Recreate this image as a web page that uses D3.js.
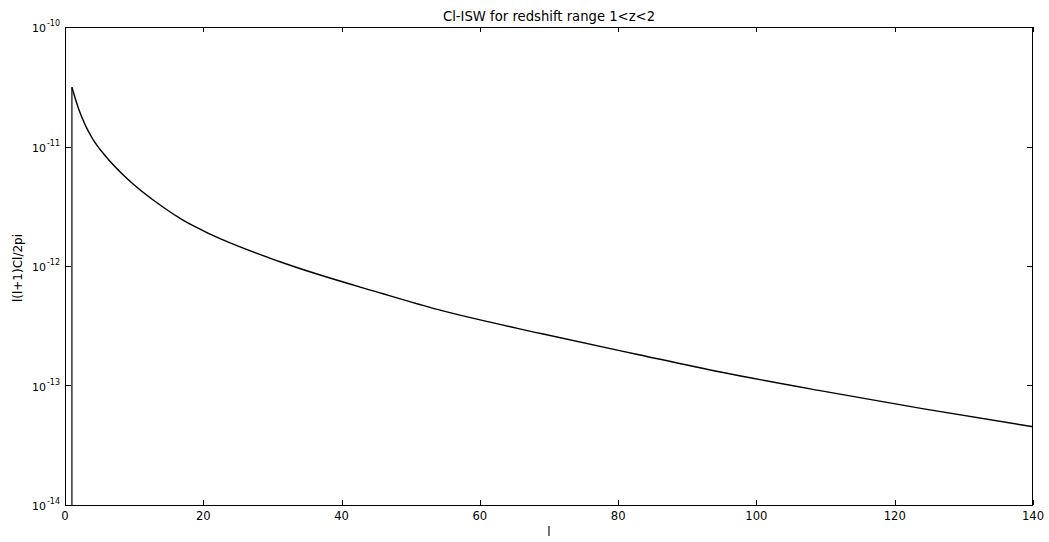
<!DOCTYPE html>
<html><head><meta charset="utf-8">
<script src="https://cdn.jsdelivr.net/npm/d3@7"></script>
<style>body{margin:0;background:#fff}svg{display:block}text{font-family:"DejaVu Sans",sans-serif;fill:#000}</style>
</head><body><svg id="c" width="1049" height="542"></svg>
<script>
const lValues  = [1, 2, 3, 4, 6, 9, 14, 17, 21, 31, 46, 54, 69, 83, 95, 109, 124, 140];
const clValues = [3.13e-11, 2.04e-11, 1.48e-11, 1.16e-11, 8.13e-12, 5.37e-12, 3.16e-12, 2.43e-12, 1.85e-12, 1.09e-12, 5.86e-13, 4.31e-13, 2.71e-13, 1.81e-13, 1.29e-13, 9.1e-14, 6.41e-14, 4.52e-14];
const xTicks = [0, 20, 40, 60, 80, 100, 120, 140];
const yExponents = [-10, -11, -12, -13, -14];
const title = "Cl-ISW for redshift range 1<z<2";
const xLabel = "l";
const yLabel = "l(l+1)Cl/2pi";

const svg = d3.select("#c");
const L = 65, R = 1033, T = 27, B = 505;
const x = d3.scaleLinear().domain([0, 140]).range([L, R]);
const y = d3.scaleLog().domain([1e-14, 1e-10]).range([B, T]);

// frame
svg.append("rect").attr("x", L + 0.5).attr("y", T + 0.5).attr("width", R - L - 1).attr("height", B - T)
  .attr("fill", "none").attr("stroke", "#000").attr("stroke-width", 1);

const g = svg.append("g");
// x ticks
xTicks.forEach(t => {
  const px = Math.round(x(t)) + 0.5;
  g.append("line").attr("x1", px).attr("x2", px).attr("y1", B).attr("y2", B - 5).attr("stroke", "#000");
  g.append("line").attr("x1", px).attr("x2", px).attr("y1", T).attr("y2", T + 5).attr("stroke", "#000");
  g.append("text").attr("x", x(t)).attr("y", B + 15).attr("text-anchor", "middle").attr("font-size", 11.6).text(t);
});

// y ticks
yExponents.forEach(e => {
  const v = Math.pow(10, e);
  const py = Math.round(y(v)) + 0.5;
  g.append("line").attr("x1", L).attr("x2", L + 6).attr("y1", py).attr("y2", py).attr("stroke", "#000");
  g.append("line").attr("x1", R).attr("x2", R - 6).attr("y1", py).attr("y2", py).attr("stroke", "#000");
  const tx = g.append("text").attr("x", L - 5).attr("y", y(v) + 5).attr("text-anchor", "end").attr("font-size", 11);
  tx.append("tspan").text("10");
  tx.append("tspan").attr("dy", -6).attr("dx", 1).attr("font-size", 8).text("-" + Math.abs(e));
  if (e > -10) {
    for (let m = 2; m <= 9; m++) {
      const my = Math.round(y(m * v)) + 0.5;
      g.append("line").attr("x1", L).attr("x2", L + 3.5).attr("y1", my).attr("y2", my).attr("stroke", "#000");
      g.append("line").attr("x1", R).attr("x2", R - 3.5).attr("y1", my).attr("y2", my).attr("stroke", "#000");
    }
  }
});

// data line
const pts = lValues.map((l, i) => [l, clValues[i]]);
svg.append("path").attr("d", d3.line()([[x(lValues[0]), y(y.domain()[0])], [x(lValues[0]), y(clValues[0])]]))
  .attr("fill", "none").attr("stroke", "#000").attr("stroke-width", 1.2);
const line = d3.line().x(d => x(d[0])).y(d => y(d[1])).curve(d3.curveMonotoneX);
svg.append("path").datum(pts).attr("d", line).attr("fill", "none").attr("stroke", "#000").attr("stroke-width", 1.4);

// labels
svg.append("text").attr("x", (L + R) / 2).attr("y", 21).attr("text-anchor", "middle").attr("font-size", 13.2).text(title);
svg.append("text").attr("x", (L + R) / 2).attr("y", 536).attr("text-anchor", "middle").attr("font-size", 12).text(xLabel);
svg.append("text").attr("transform", `translate(22,268) rotate(-90)`).attr("text-anchor", "middle").attr("font-size", 12).text(yLabel);
</script></body></html>
